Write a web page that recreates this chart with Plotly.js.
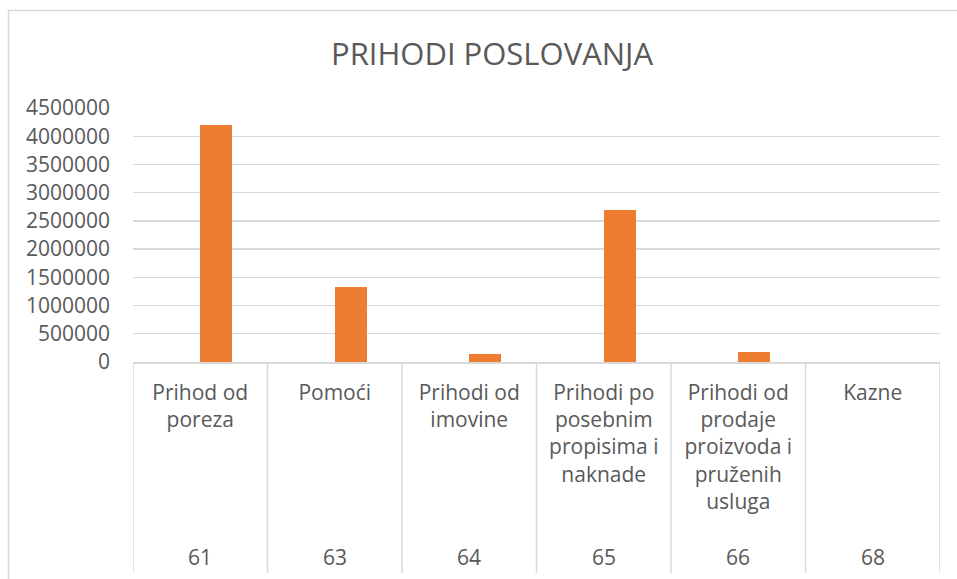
<!DOCTYPE html>
<html>
<head>
<meta charset="utf-8">
<script src="https://cdn.plot.ly/plotly-3.0.1.min.js"></script>
<style>
html,body{margin:0;padding:0;background:#fff;}
#chart{width:957px;height:579px;}
</style>
</head>
<body>
<div id="chart"></div>
<script>
const codes = ['61', '63', '64', '65', '66', '68'];
const names = [
  'Prihod od<br>poreza',
  'Pomoći',
  'Prihodi od<br>imovine',
  'Prihodi po<br>posebnim<br>propisima i<br>naknade',
  'Prihodi od<br>prodaje<br>proizvoda i<br>pruženih<br>usluga',
  'Kazne'
];
const values = [4205000, 1330000, 150000, 2688000, 172000, 0];
const yTicks = [0, 500000, 1000000, 1500000, 2000000, 2500000, 3000000, 3500000, 4000000, 4500000];

const textColor = '#595959';
const gridColor = '#d9d9d9';
const fontFam = '"Open Sans", "Noto Sans", sans-serif';

const W = 957, H = 579;
const margin = {l: 133, r: 17, t: 108, b: 217};
const plotW = W - margin.l - margin.r;
const plotH = H - margin.t - margin.b;
const px2py = y => (H - margin.b - y) / plotH;
const px2px = x => (x - margin.l) / plotW;

const shapes = [];
for (let i = 0; i <= codes.length; i++) {
  shapes.push({type: 'line', xref: 'x', yref: 'paper', x0: i - 0.5, x1: i - 0.5,
    y0: 0, y1: px2py(573), line: {color: gridColor, width: 1.5}});
}
// chart frame (left and top edges)
shapes.push({type: 'line', xref: 'paper', yref: 'paper', x0: px2px(8.5), x1: px2px(8.5),
  y0: px2py(10.5), y1: px2py(590), line: {color: gridColor, width: 1.5}});
shapes.push({type: 'line', xref: 'paper', yref: 'paper', x0: px2px(8.5), x1: px2px(970),
  y0: px2py(10.5), y1: px2py(10.5), line: {color: gridColor, width: 1.5}});

const annotations = codes.map((c, i) => ({
  xref: 'x', yref: 'paper', x: i, y: px2py(557), yanchor: 'middle', xanchor: 'center',
  text: c, showarrow: false, font: {family: fontFam, size: 21, color: textColor}
}));

const data = [{
  type: 'bar',
  x: codes,
  y: values,
  width: 0.238,
  offset: 0,
  marker: {color: '#ED7D31'},
  hoverinfo: 'x+y'
}];

const layout = {
  width: W, height: H,
  margin: margin,
  paper_bgcolor: '#ffffff',
  plot_bgcolor: '#ffffff',
  showlegend: false,
  title: {text: 'PRIHODI POSLOVANJA', x: (492) / W, xanchor: 'center', y: 1 - 54 / H, yanchor: 'middle',
    font: {family: fontFam, size: 31, color: textColor}},
  xaxis: {
    type: 'category',
    tickvals: codes,
    ticktext: names,
    range: [-0.5, codes.length - 0.5],
    showgrid: false,
    showline: true, linecolor: gridColor, linewidth: 1.5,
    ticks: '',
    ticklabelstandoff: 11,
    tickfont: {family: fontFam, size: 21, color: textColor},
    zeroline: false
  },
  yaxis: {
    range: [0, 4500000],
    tickvals: yTicks,
    ticktext: yTicks.map(String),
    showgrid: true, gridcolor: gridColor, gridwidth: 1.3,
    zeroline: false, showline: false, ticks: '',
    ticklabelstandoff: 22,
    tickfont: {family: fontFam, size: 21, color: textColor}
  },
  shapes: shapes,
  annotations: annotations,
  bargap: 0
};

Plotly.newPlot('chart', data, layout, {displayModeBar: false, staticPlot: true});
</script>
</body>
</html>
